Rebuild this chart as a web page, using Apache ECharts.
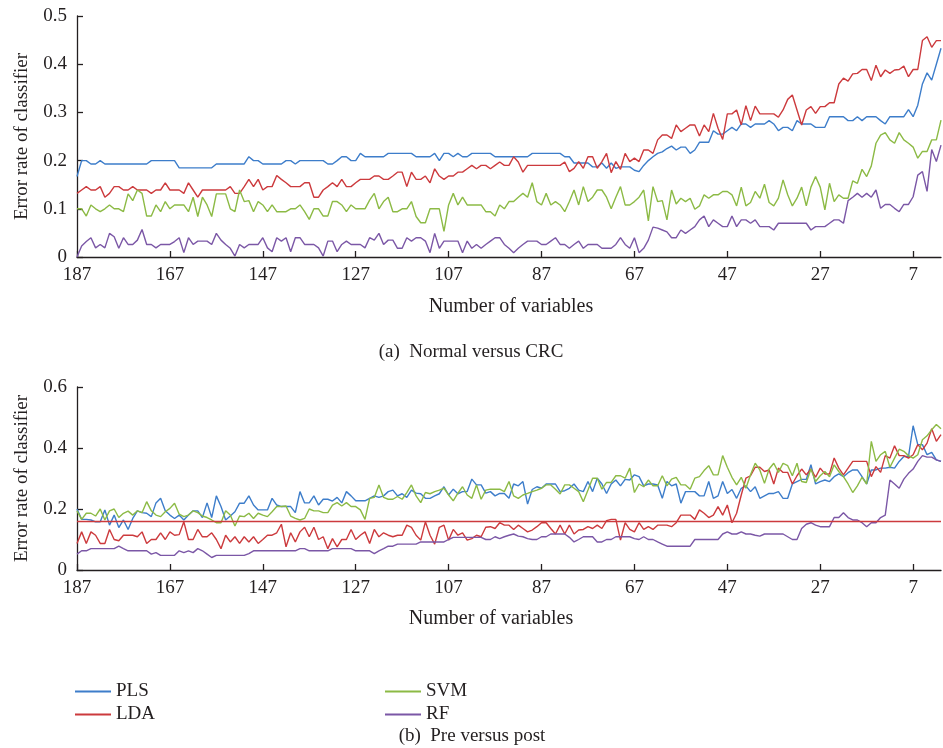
<!DOCTYPE html>
<html>
<head>
<meta charset="utf-8">
<title>Error rate of classifier versus number of variables</title>
<script src="https://cdn.jsdelivr.net/npm/echarts@6/dist/echarts.min.js"></script>
<style>
  html, body { margin: 0; padding: 0; background: #ffffff; }
  #chart { width: 943px; height: 748px; }
</style>
</head>
<body>
<div id="chart"></div>
<script>
// Number of retained variables, from 187 down to 1 (one category per step)
const variables = Array.from({ length: 187 }, (_, k) => String(187 - k));

const seriesNames = ['PLS', 'LDA', 'SVM', 'RF'];
const seriesColors = ['#3d7dca', '#cc3a3d', '#8cba45', '#7b57a6'];

// (a) Normal versus CRC — error rate per number of variables (187 → 1)
const plsA = [
  .167,.20,.20,.193,.193,.20,.193,.193,.193,.193,
  .193,.193,.193,.193,.193,.193,.20,.20,.20,.20,
  .20,.20,.185,.185,.185,.185,.185,.185,.185,.185,
  .193,.193,.193,.193,.193,.193,.193,.208,.20,.20,
  .193,.193,.193,.193,.193,.20,.20,.193,.20,.20,
  .20,.20,.20,.20,.193,.193,.20,.208,.208,.20,
  .20,.215,.208,.208,.208,.208,.208,.215,.215,.215,
  .215,.215,.215,.208,.208,.208,.208,.215,.20,.215,
  .215,.208,.215,.208,.208,.215,.215,.215,.215,.215,
  .208,.208,.208,.208,.208,.208,.208,.208,.215,.215,
  .215,.215,.215,.215,.215,.208,.208,.195,.195,.195,
  .195,.187,.187,.195,.184,.195,.184,.187,.187,.187,
  .18,.177,.19,.20,.208,.215,.218,.225,.23,.222,
  .228,.228,.215,.222,.238,.238,.238,.262,.255,.255,
  .262,.269,.262,.276,.276,.269,.276,.276,.276,.283,
  .276,.262,.269,.269,.262,.283,.276,.276,.276,.269,
  .269,.269,.291,.291,.291,.291,.283,.283,.291,.283,
  .291,.291,.291,.283,.276,.291,.291,.291,.291,.306,
  .291,.315,.359,.382,.367,.40,.433
];
const ldaA = [
  .132,.139,.146,.139,.139,.146,.124,.132,.146,.146,
  .139,.139,.146,.139,.139,.139,.132,.139,.139,.154,
  .139,.139,.139,.132,.154,.139,.124,.139,.139,.139,
  .139,.139,.139,.146,.132,.132,.146,.161,.146,.161,
  .139,.146,.146,.169,.161,.154,.146,.146,.146,.154,
  .154,.124,.124,.139,.146,.154,.146,.161,.146,.146,
  .154,.161,.161,.161,.168,.168,.161,.161,.168,.176,
  .176,.146,.176,.161,.161,.168,.154,.183,.168,.161,
  .168,.168,.176,.176,.183,.19,.183,.19,.19,.183,
  .19,.197,.19,.19,.208,.197,.176,.19,.19,.19,
  .19,.19,.19,.19,.19,.197,.177,.184,.198,.184,
  .208,.208,.184,.198,.215,.175,.198,.182,.215,.198,
  .205,.198,.222,.222,.215,.243,.253,.253,.246,.274,
  .26,.267,.274,.274,.251,.274,.26,.298,.267,.244,
  .297,.297,.305,.274,.314,.283,.313,.297,.297,.297,
  .297,.29,.305,.327,.336,.305,.274,.305,.312,.298,
  .312,.312,.32,.32,.359,.371,.365,.38,.381,.389,
  .389,.366,.398,.374,.388,.381,.388,.389,.396,.374,
  .389,.389,.449,.457,.435,.449,.449
];
const svmA = [
  .10,.10,.085,.108,.10,.094,.10,.108,.10,.10,
  .094,.131,.117,.139,.132,.085,.085,.108,.094,.115,
  .10,.108,.108,.108,.094,.124,.084,.124,.108,.084,
  .131,.131,.131,.10,.094,.139,.115,.117,.094,.115,
  .108,.094,.108,.094,.094,.094,.10,.10,.108,.094,
  .078,.10,.10,.085,.085,.115,.115,.108,.094,.108,
  .10,.10,.10,.118,.132,.10,.115,.124,.094,.094,
  .10,.10,.115,.084,.071,.071,.10,.10,.10,.053,
  .108,.132,.108,.124,.108,.108,.108,.108,.094,.094,
  .085,.108,.10,.115,.115,.124,.132,.124,.154,.115,
  .108,.132,.108,.115,.108,.094,.115,.139,.108,.146,
  .115,.124,.139,.139,.124,.10,.124,.146,.108,.108,
  .115,.124,.139,.075,.146,.115,.117,.077,.139,.11,
  .122,.115,.122,.099,.106,.129,.122,.129,.129,.136,
  .136,.129,.106,.145,.106,.113,.136,.122,.151,.113,
  .106,.122,.16,.129,.106,.122,.145,.106,.145,.167,
  .145,.098,.153,.115,.129,.122,.122,.158,.153,.182,
  .167,.189,.236,.253,.258,.243,.236,.258,.243,.236,
  .228,.205,.219,.219,.243,.243,.284
];
const rfA = [
  0,.023,.032,.04,.019,.026,.019,.049,.042,.018,
  .04,.026,.026,.035,.057,.026,.026,.019,.026,.026,
  .026,.032,.04,.009,.04,.026,.033,.033,.033,.026,
  .049,.035,.026,.018,.002,.026,.019,.026,.026,.026,
  .04,.019,.011,.04,.033,.04,.011,.04,.04,.026,
  .026,.026,.019,.002,.033,.033,.011,.026,.033,.026,
  .026,.026,.019,.04,.035,.049,.026,.035,.035,.018,
  .018,.04,.033,.04,.04,.033,.009,.049,.018,.033,
  .033,.033,.033,.009,.033,.018,.026,.018,.026,.033,
  .04,.04,.026,.018,.009,.018,.026,.033,.033,.033,
  .026,.026,.033,.04,.026,.026,.018,.026,.033,.018,
  .026,.026,.026,.018,.018,.018,.026,.04,.026,.018,
  .04,.009,.018,.035,.062,.06,.056,.052,.04,.04,
  .056,.049,.056,.063,.077,.085,.063,.077,.07,.063,
  .063,.085,.063,.077,.077,.07,.077,.063,.063,.063,
  .056,.07,.07,.07,.07,.07,.07,.07,.056,.063,
  .063,.063,.07,.077,.077,.07,.117,.124,.132,.124,
  .132,.124,.139,.101,.109,.109,.101,.094,.109,.109,
  .125,.17,.177,.136,.223,.198,.232
];

// (b) Pre versus post — error rate per number of variables (187 → 1)
const plsB = [
  .20,.166,.166,.164,.158,.158,.197,.147,.18,.139,
  .164,.133,.169,.194,.188,.186,.175,.22,.235,.194,
  .18,.169,.18,.164,.18,.194,.194,.172,.22,.172,
  .243,.208,.164,.177,.191,.219,.219,.243,.213,.197,
  .197,.197,.235,.213,.208,.208,.208,.188,.257,.22,
  .22,.243,.213,.232,.232,.226,.238,.22,.257,.243,
  .227,.227,.227,.235,.243,.238,.243,.257,.262,.243,
  .25,.238,.262,.252,.25,.235,.235,.243,.25,.273,
  .246,.265,.25,.257,.257,.298,.279,.279,.252,.257,
  .243,.251,.251,.235,.282,.276,.29,.216,.264,.273,
  .268,.282,.282,.282,.257,.26,.268,.282,.262,.257,
  .29,.257,.301,.282,.251,.282,.295,.276,.297,.295,
  .312,.306,.276,.282,.282,.279,.235,.29,.276,.282,
  .219,.257,.257,.257,.243,.243,.29,.235,.243,.29,
  .251,.264,.235,.268,.276,.257,.273,.235,.243,.251,
  .251,.257,.235,.235,.282,.29,.297,.297,.345,.282,
  .29,.295,.29,.306,.315,.306,.319,.328,.328,.306,
  .282,.328,.328,.334,.334,.337,.334,.356,.372,.372,
  .473,.411,.411,.378,.386,.361,.356
];
const ldaB = [
  .087,.125,.087,.125,.114,.087,.087,.133,.10,.096,
  .114,.114,.114,.109,.125,.087,.10,.10,.122,.10,
  .125,.114,.116,.158,.10,.10,.133,.109,.109,.122,
  .10,.07,.114,.092,.109,.087,.109,.092,.109,.087,
  .10,.114,.114,.122,.15,.076,.122,.092,.125,.14,
  .109,.14,.10,.109,.07,.103,.076,.10,.10,.133,
  .10,.114,.125,.087,.133,.109,.122,.114,.109,.114,
  .114,.147,.14,.114,.098,.158,.114,.085,.14,.147,
  .098,.133,.114,.122,.098,.103,.114,.109,.14,.142,
  .136,.155,.147,.147,.133,.147,.136,.125,.131,.142,
  .155,.155,.136,.118,.147,.118,.147,.118,.131,.133,
  .142,.136,.147,.136,.162,.166,.166,.098,.155,.133,
  .125,.155,.133,.142,.133,.147,.147,.147,.142,.155,
  .18,.18,.18,.166,.197,.186,.172,.18,.208,.18,
  .213,.155,.186,.246,.301,.309,.337,.337,.323,.328,
  .282,.334,.32,.32,.282,.309,.331,.312,.331,.304,
  .334,.315,.315,.367,.334,.312,.334,.356,.356,.356,
  .356,.306,.339,.32,.375,.367,.407,.375,.375,.367,
  .378,.411,.394,.416,.463,.422,.444
];
const svmB = [
  .194,.166,.186,.186,.177,.20,.164,.194,.20,.172,
  .186,.193,.18,.194,.188,.224,.194,.18,.175,.191,
  .202,.219,.183,.175,.18,.194,.188,.177,.172,.164,
  .155,.155,.194,.18,.144,.177,.175,.186,.169,.186,
  .18,.175,.191,.208,.208,.21,.177,.169,.164,.169,
  .20,.194,.194,.188,.188,.213,.221,.21,.221,.208,
  .208,.197,.166,.235,.238,.279,.238,.232,.232,.241,
  .232,.254,.279,.243,.221,.254,.25,.257,.262,.268,
  .246,.227,.252,.273,.246,.235,.279,.232,.262,.265,
  .265,.265,.257,.29,.243,.235,.246,.251,.257,.262,
  .268,.279,.279,.265,.249,.279,.279,.268,.257,.224,
  .262,.301,.301,.265,.287,.287,.309,.309,.301,.334,
  .254,.282,.273,.295,.276,.276,.309,.276,.298,.304,
  .279,.279,.265,.301,.306,.326,.342,.312,.312,.375,
  .337,.304,.279,.304,.268,.312,.35,.328,.284,.331,
  .35,.32,.35,.342,.309,.35,.29,.287,.331,.29,
  .309,.323,.306,.345,.323,.306,.282,.254,.276,.304,
  .282,.422,.356,.378,.389,.337,.367,.396,.389,.375,
  .367,.378,.427,.44,.46,.477,.463
];
const rfB = [
  .052,.063,.063,.07,.07,.07,.07,.07,.07,.078,
  .07,.063,.063,.063,.063,.063,.052,.057,.048,.048,
  .048,.048,.063,.057,.063,.057,.07,.063,.052,.041,
  .048,.048,.048,.048,.048,.048,.048,.054,.063,.063,
  .063,.063,.063,.063,.063,.063,.063,.063,.07,.07,
  .063,.063,.063,.063,.063,.07,.07,.07,.07,.07,
  .063,.063,.063,.063,.054,.063,.07,.078,.078,.085,
  .085,.085,.085,.085,.092,.092,.092,.092,.092,.092,
  .10,.107,.107,.107,.107,.107,.107,.107,.10,.10,
  .109,.103,.109,.114,.118,.111,.109,.103,.10,.10,
  .109,.109,.118,.118,.118,.118,.107,.092,.10,.109,
  .109,.109,.092,.092,.10,.10,.109,.109,.109,.109,
  .103,.10,.109,.10,.10,.092,.085,.078,.078,.078,
  .078,.078,.078,.10,.10,.10,.10,.10,.10,.118,
  .125,.118,.118,.125,.118,.118,.114,.111,.118,.118,
  .118,.118,.118,.109,.10,.10,.136,.15,.155,.147,
  .142,.142,.142,.172,.172,.188,.172,.164,.164,.155,
  .142,.155,.155,.172,.18,.295,.282,.268,.298,.317,
  .331,.356,.375,.37,.37,.361,.356
];
// Horizontal reference level drawn in panel (b)
const baselineB = 0.16;

// Panel axis ranges and tick steps
const yMaxA = 0.5, yStepA = 0.1;
const yMaxB = 0.6, yStepB = 0.2;
const labelEvery = 20;

const FONT = "'Liberation Serif', 'Times New Roman', serif";
const INK = '#231f20';

const chart = echarts.init(document.getElementById('chart'), null, { renderer: 'canvas' });

function xAxisFor(gridIndex) {
  const every = (idx) => idx % labelEvery === 0;
  return {
    type: 'category',
    gridIndex,
    data: variables,
    boundaryGap: false,
    axisLine: { lineStyle: { color: INK, width: 1.3 } },
    axisTick: { inside: true, length: 6, interval: every, lineStyle: { color: INK, width: 1.3 } },
    axisLabel: { interval: every, fontFamily: FONT, fontSize: 19, color: INK, margin: 9 },
    splitLine: { show: false }
  };
}

function yAxisFor(gridIndex, max, step) {
  return {
    type: 'value',
    gridIndex,
    min: 0,
    max,
    interval: step,
    name: 'Error rate of classifier',
    nameLocation: 'middle',
    nameGap: 45,
    nameTextStyle: { fontFamily: FONT, fontSize: 19, color: INK },
    axisLine: { show: true, lineStyle: { color: INK, width: 1.3 } },
    axisTick: { show: true, inside: true, length: 6, lineStyle: { color: INK, width: 1.3 } },
    axisLabel: { fontFamily: FONT, fontSize: 19, color: INK, margin: 10 },
    splitLine: { show: false }
  };
}

function lineSeries(name, data, idx, extra) {
  return Object.assign({
    name,
    type: 'line',
    xAxisIndex: idx,
    yAxisIndex: idx,
    data,
    symbol: 'none',
    showSymbol: false,
    animation: false,
    lineStyle: { width: 1.4, color: seriesColors[seriesNames.indexOf(name)] },
    itemStyle: { color: seriesColors[seriesNames.indexOf(name)] }
  }, extra || {});
}

function caption(text, x, y, size) {
  return {
    type: 'text',
    x, y,
    style: {
      text,
      fontFamily: FONT,
      fontSize: size,
      fill: INK,
      align: 'center',
      verticalAlign: 'middle'
    }
  };
}

const legendBase = {
  orient: 'vertical',
  icon: 'rect',
  itemWidth: 36,
  itemHeight: 2,
  itemGap: 4,
  padding: 0,
  selectedMode: false,
  textStyle: { fontFamily: FONT, fontSize: 19, color: INK, lineHeight: 18 }
};

chart.setOption({
  animation: false,
  backgroundColor: '#ffffff',
  grid: [
    { left: 77, right: 2, top: 16, height: 241 },
    { left: 77, right: 2, top: 387, height: 183 }
  ],
  xAxis: [xAxisFor(0), xAxisFor(1)],
  yAxis: [yAxisFor(0, yMaxA, yStepA), yAxisFor(1, yMaxB, yStepB)],
  legend: [
    Object.assign({}, legendBase, { left: 75, top: 682, data: ['PLS', 'LDA'] }),
    Object.assign({}, legendBase, { left: 385, top: 682, data: ['SVM', 'RF'] })
  ],
  series: [
    lineSeries('PLS', plsA, 0),
    lineSeries('LDA', ldaA, 0),
    lineSeries('SVM', svmA, 0),
    lineSeries('RF', rfA, 0),
    lineSeries('PLS', plsB, 1),
    lineSeries('LDA', ldaB, 1, {
      markLine: {
        silent: true,
        symbol: 'none',
        label: { show: false },
        lineStyle: { color: seriesColors[1], width: 1.4, type: 'solid' },
        data: [{ yAxis: baselineB }]
      }
    }),
    lineSeries('SVM', svmB, 1),
    lineSeries('RF', rfB, 1)
  ],
  graphic: [
    caption('Number of variables', 511, 307, 20),
    caption('(a)  Normal versus CRC', 471, 352, 19),
    caption('Number of variables', 491, 619, 20),
    caption('(b)  Pre versus post', 472, 736, 19)
  ]
});
</script>
</body>
</html>
